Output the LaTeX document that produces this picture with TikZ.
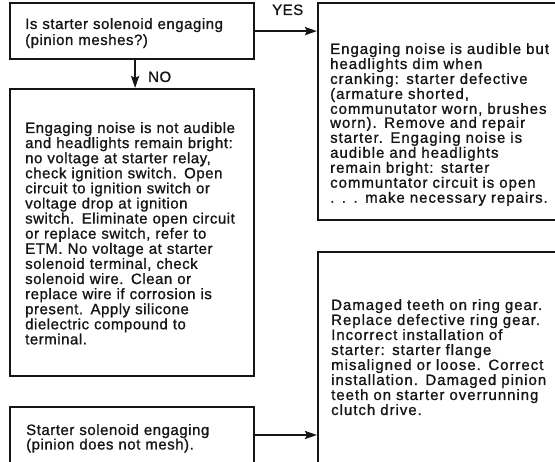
\documentclass[tikz,border=0pt]{standalone}
\usepackage{fontspec}
\usetikzlibrary{arrows.meta}
\newfontfamily\leftfont[LetterSpace=3.5,FakeBold=1]{Liberation Sans}
\newfontfamily\rightfont[LetterSpace=6.5,FakeBold=1]{Liberation Sans}
\definecolor{ink}{HTML}{151515}
\tikzset{
  box/.style={draw=ink, line width=2.2pt, inner sep=0pt, anchor=north west},
  txt/.style={anchor=base west, inner sep=0pt, align=left, text width=320pt, text=ink},
  flow/.style={draw=ink, line width=2.2pt, -{Stealth[length=12pt,width=8pt,inset=2pt]}},
  lbl/.style={anchor=base west, inner sep=0pt, text=ink, font=\leftfont\fontsize{15}{15}\selectfont}
}
\begin{document}
\begin{tikzpicture}[x=1pt,y=-1pt]
\useasboundingbox[fill=white] (0,0) rectangle (555,462);
\clip (0,0) rectangle (555,462);
% boxes
\node[box, minimum width=244pt, minimum height=56pt]  (qA) at (9,2) {};
\node[box, minimum width=244pt, minimum height=287pt] (bB) at (9,88) {};
\node[box, minimum width=244pt, minimum height=80pt]  (cC) at (9,406) {};
\node[box, minimum width=262pt, minimum height=217pt] (dD) at (317,2) {};
\node[box, minimum width=262pt, minimum height=240pt] (eE) at (317,251) {};
% texts
\node[txt, font=\leftfont\fontsize{15}{16}\selectfont] (tA) at (25,29)
  {Is starter solenoid engaging\\(pinion meshes?)};
\node[txt, font=\leftfont\fontsize{15}{15.1}\selectfont] (tB) at (25,133)
  {Engaging noise is not audible\\
   and headlights remain bright:\\
   no voltage at starter relay,\\
   check ignition switch. Open\\
   circuit to ignition switch or\\
   voltage drop at ignition\\
   switch. Eliminate open circuit\\
   or replace switch, refer to\\
   ETM. No voltage at starter\\
   solenoid terminal, check\\
   solenoid wire. Clean or\\
   replace wire if corrosion is\\
   present. Apply silicone\\
   dielectric compound to\\
   terminal.};
\node[txt, font=\leftfont\fontsize{15}{14.5}\selectfont] (tC) at (26,435)
  {Starter solenoid engaging\\(pinion does not mesh).};
\node[txt, font=\rightfont\fontsize{15}{13.9}\selectfont] (tD) at (330,54)
  {Engaging noise is audible but\\
   headlights dim when\\
   cranking: starter defective\\
   (armature shorted,\\
   communutator worn, brushes\\
   worn). Remove and repair\\
   starter. Engaging noise is\\
   audible and headlights\\
   remain bright: starter\\
   communtator circuit is open\\
   . . . make necessary repairs.};
\node[txt, font=\rightfont\fontsize{15}{15}\selectfont] (tE) at (331,310)
  {Damaged teeth on ring gear.\\
   Replace defective ring gear.\\
   Incorrect installation of\\
   starter: starter flange\\
   misaligned or loose. Correct\\
   installation. Damaged pinion\\
   teeth on starter overrunning\\
   clutch drive.};
% labels
\node[lbl] (yes) at (272,15) {YES};
\node[lbl] (no) at (148,82) {NO};
% connectors
\draw[flow] (qA.east) -- (qA.east -| dD.west);
\draw[flow] ([xshift=3pt]qA.south) -- ([xshift=3pt]qA.south |- bB.north);
\coordinate (cOut) at ([yshift=-29pt]cC.north east);
\draw[flow] (cOut) -- (cOut -| eE.west);
\end{tikzpicture}
\end{document}
